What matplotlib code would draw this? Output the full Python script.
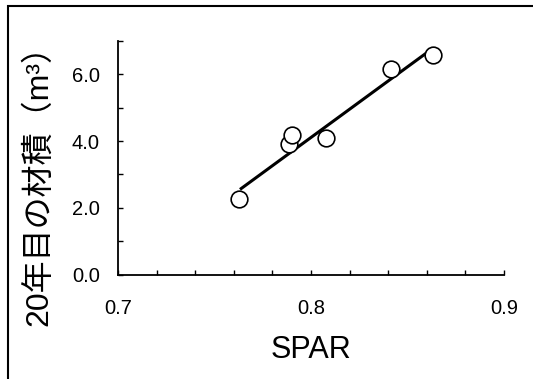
import matplotlib
matplotlib.use("Agg")
import matplotlib.pyplot as plt
from matplotlib.patches import Rectangle
import numpy as np

# data
spar = [0.7629, 0.7885, 0.7903, 0.8078, 0.8417, 0.8631]
volume = [2.27, 3.90, 4.19, 4.10, 6.17, 6.57]
fit_x = [0.7632, 0.8605]
fit_y = [2.55, 6.67]
xticks = [0.7, 0.8, 0.9]
xticklabels = ["0.7", "0.8", "0.9"]
yticks = [0, 2, 4, 6]
yticklabels = ["0.0", "2.0", "4.0", "6.0"]

plt.rcParams['font.family'] = ['Liberation Sans', 'Noto Sans CJK JP', 'DejaVu Sans']

fig = plt.figure(figsize=(5.33, 3.79), dpi=100)
ax = fig.add_axes([118/533, 1-274.5/379, (504-118)/533, (274.5-41)/379])

ax.plot(fit_x, fit_y, color='black', lw=2.2, solid_capstyle='butt', zorder=2)
ax.plot(spar, volume, 'o', ms=12, mfc='white', mec='black', mew=1.2, zorder=3)

ax.set_xlim(0.7, 0.9)
ax.set_ylim(0, 7)
ax.set_xticks(xticks)
ax.set_xticklabels(xticklabels)
ax.set_xticks(np.arange(0.7, 0.9001, 0.02), minor=True)
ax.set_yticks(yticks)
ax.set_yticklabels(yticklabels)
ax.set_yticks([1, 3, 5, 7], minor=True)

for s in ['top', 'right']:
    ax.spines[s].set_visible(False)
for s in ['left', 'bottom']:
    ax.spines[s].set_linewidth(1.3)

ax.tick_params(axis='both', which='both', direction='in', length=3.5, width=1.0,
               labelsize=14.5, colors='black')
ax.tick_params(axis='y', which='major', pad=13)
ax.tick_params(axis='x', which='major', pad=18)

ax.set_xlabel("SPAR", fontsize=22, labelpad=12)
fig.text(39/533, 1-177/379, "20年目の材積（m³）", rotation=90, fontsize=23,
         ha='center', va='center')

fig.patches.append(Rectangle((8/533, -0.05), 1.2, 1-5.5/379+0.05, transform=fig.transFigure,
                             fill=False, edgecolor='black', lw=1.5))

fig.savefig("out.png", dpi=100)
